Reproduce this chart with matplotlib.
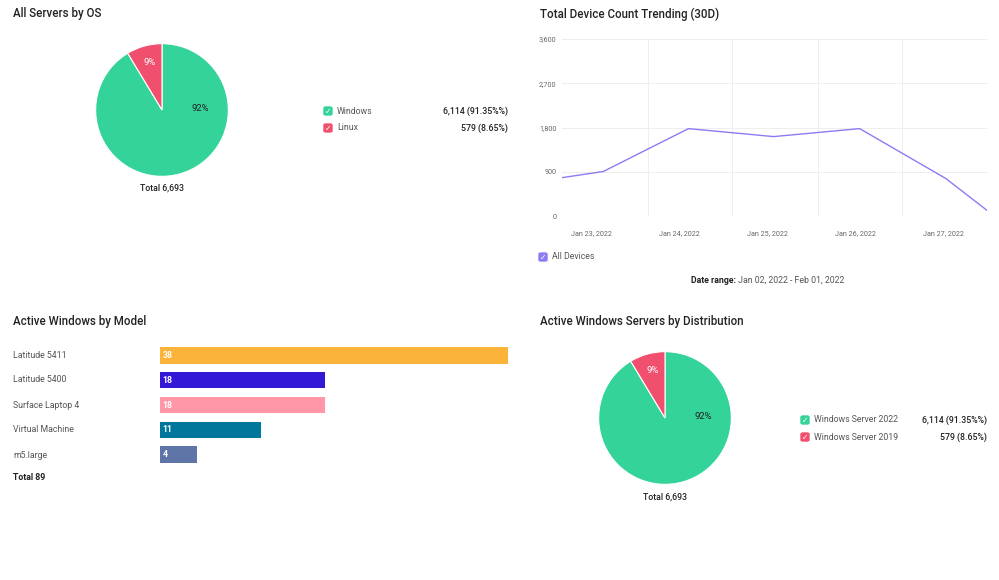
import matplotlib.pyplot as plt
from matplotlib.patches import FancyBboxPatch

plt.rcParams['font.family'] = ['Roboto', 'DejaVu Sans']

W, H = 999, 580

# data
os_labels = ['Windows', 'Linux']
os_values = [6114, 579]
os_texts = ['6,114 (91.35%%)', '579 (8.65%)']
os_pcts = ['92%', '9%']

dist_labels = ['Windows Server 2022', 'Windows Server 2019']
dist_values = [6114, 579]
dist_texts = ['6,114 (91.35%%)', '579 (8.65%)']

models = ['Latitude 5411', 'Latitude 5400', 'Surface Laptop 4', 'Virtual Machine', 'm5.large']
model_counts = [38, 18, 18, 11, 4]
model_colors = ['#fbb33a', '#3318d8', '#ff97a8', '#00779b', '#5f75a8']

# day-of-January positions and device counts
trend_days = [22.6, 23.13, 24.1, 25.07, 26.05, 27.03, 27.5]
trend_counts = [764, 905, 1777, 1615, 1777, 764, 115]
trend_ticks = [23, 24, 25, 26, 27]
trend_tick_labels = ['Jan 23, 2022', 'Jan 24, 2022', 'Jan 25, 2022', 'Jan 26, 2022', 'Jan 27, 2022']

GREEN = '#34d399'
RED = '#f0506e'
PURPLE = '#8a7cf5'
TXT = '#222222'
GREY = '#555555'

fig = plt.figure(figsize=(W / 100, H / 100), dpi=100)


def ax_px(x0, y0, x1, y1):
    return fig.add_axes([x0 / W, 1 - y1 / H, (x1 - x0) / W, (y1 - y0) / H])


def txt(x, y, s, **kw):
    kw.setdefault('fontsize', 6.3)
    kw.setdefault('color', TXT)
    kw.setdefault('va', 'center')
    fig.text(x / W, 1 - y / H, s, **kw)


def check(x, y, color):
    fig.patches.append(FancyBboxPatch(((x - 4) / W, 1 - (y + 4) / H), 8 / W, 8 / H,
                                      boxstyle='round,pad=0,rounding_size=0.002',
                                      transform=fig.transFigure, color=color))
    txt(x, y + 0.5, '✓', color='white', fontsize=5.5, ha='center', family=['DejaVu Sans'])


def pie_block(cx, cy, labels, values, texts, total_y, leg_x, val_x, leg_y):
    ax = ax_px(cx - 67, cy - 67, cx + 67, cy + 67)
    ax.pie(values, colors=[GREEN, RED], startangle=90, counterclock=False,
           wedgeprops=dict(edgecolor='white', linewidth=0.8))
    ax.set_xlim(-1.01, 1.01)
    ax.set_ylim(-1.01, 1.01)
    ax.set_aspect('equal')
    ax.text(0.57, 0.03, os_pcts[0], fontsize=6.8, ha='center', va='center', color=TXT)
    ax.text(-0.19, 0.72, os_pcts[1], fontsize=6.8, ha='center', va='center', color='white')
    txt(cx, total_y, 'Total 6,693', ha='center', fontweight='medium')
    for i, (lab, t) in enumerate(zip(labels, texts)):
        y = leg_y + i * 17
        check(leg_x, y, [GREEN, RED][i])
        txt(leg_x + 9, y, lab, color=GREY)
        txt(val_x, y, t, ha='right', fontweight='medium')


# titles
for x, y, s in [(13, 14, 'All Servers by OS'), (540, 14, 'Total Device Count Trending (30D)'),
                (13, 322, 'Active Windows by Model'), (540, 321, 'Active Windows Servers by Distribution')]:
    txt(x, y, s, fontsize=8.3, fontweight='medium')

pie_block(162, 110, os_labels, os_values, os_texts, 188, 328, 508, 111)
pie_block(665, 418, dist_labels, dist_values, dist_texts, 497, 805, 987, 420)

# line chart
ax = ax_px(562, 39, 987, 216)
ax.plot(trend_days, trend_counts, color=PURPLE, linewidth=1)
ax.set_xlim(22.66, 27.5)
ax.set_ylim(0, 3600)
ax.set_yticks([0, 900, 1800, 2700, 3600])
ax.set_yticklabels(['0', '900', '1,800', '2,700', '3,600'])
ax.set_xticks(trend_ticks)
ax.set_xticklabels(trend_tick_labels)
ax.set_xticks([23.64, 24.6, 25.57, 26.53], minor=True)
ax.tick_params(which='both', length=0, labelsize=5.2, colors='#666666')
ax.tick_params(axis='x', pad=10)
ax.tick_params(axis='y', pad=4)
ax.grid(axis='y', color='#eeeeee', linewidth=0.7)
ax.grid(axis='x', which='minor', color='#eeeeee', linewidth=0.7)
ax.set_axisbelow(True)
for s in ax.spines.values():
    s.set_visible(False)
check(543, 257, PURPLE)
txt(552, 257, 'All Devices', color=GREY)
txt(736, 280, 'Date range:', ha='right', fontweight='bold')
txt(736, 280, ' Jan 02, 2022 - Feb 01, 2022', ha='left', color=GREY)

# bar chart
ax = ax_px(160, 343, 508, 467)
ypos = list(range(len(models)))
bars = ax.barh(ypos, model_counts, height=0.66, color=model_colors)
ax.set_xlim(0, 38)
ax.set_ylim(4.5, -0.5)
ax.axis('off')
for y, v in zip(ypos, model_counts):
    ax.text(0.25, y, str(v), color='white', fontsize=6.3, fontweight='bold', va='center')
for i, m in enumerate(models):
    txt(13, 355 + i * 25, m, color=GREY)
txt(13, 477, 'Total 89', fontweight='bold')

fig.savefig('out.png', dpi=100)
